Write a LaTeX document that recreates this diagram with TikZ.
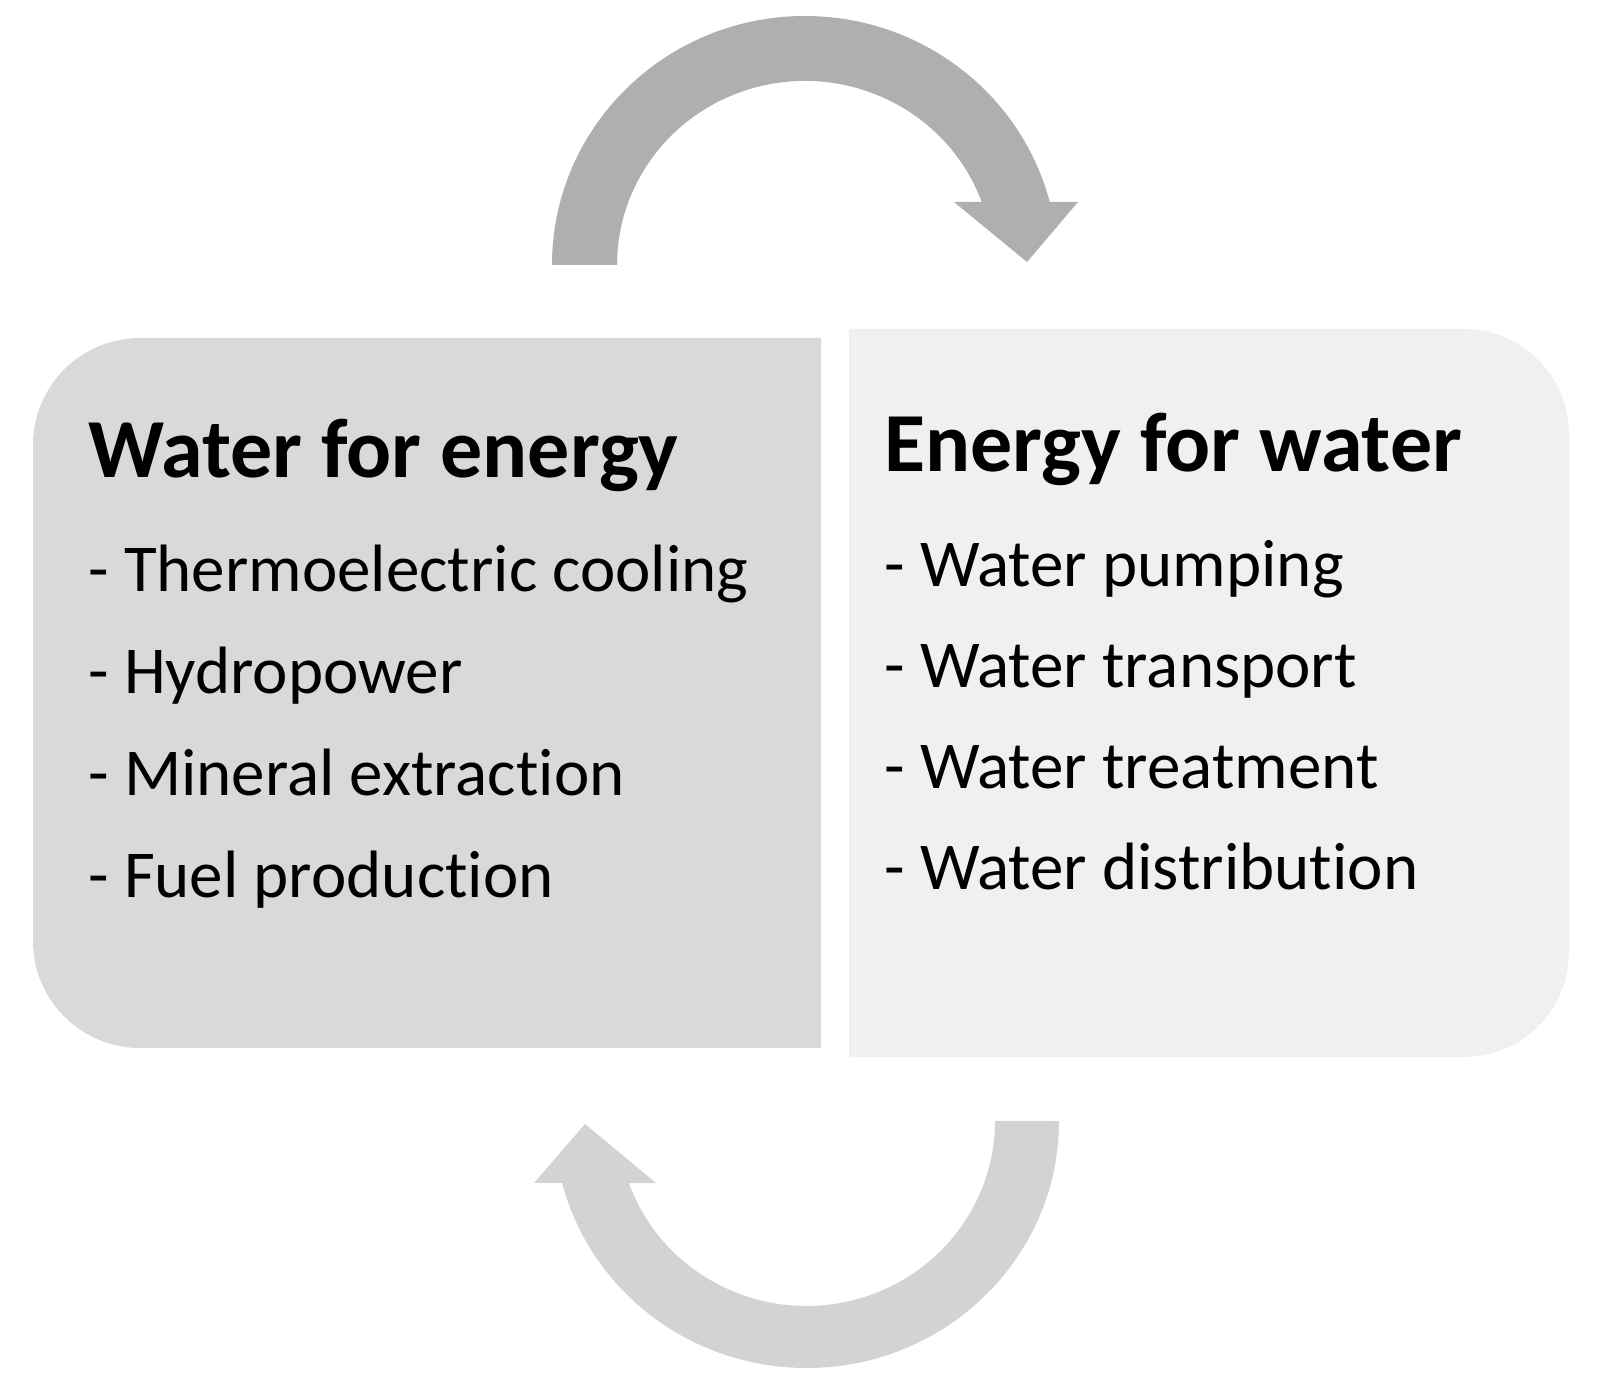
\documentclass[tikz,border=0pt]{standalone}
\usepackage{fontspec}
\setmainfont{Carlito}[Ligatures=NoCommon]
\definecolor{arrowdark}{HTML}{AFAFAF}
\definecolor{arrowlight}{HTML}{D3D3D3}
\definecolor{boxdark}{HTML}{D9D9D9}
\definecolor{boxlight}{HTML}{F0F0F0}
\tikzset{
  titletext/.style={anchor=base west, inner sep=0pt, font=\fontsize{42pt}{50pt}\selectfont\bfseries},
  itemtext/.style={anchor=base west, inner sep=0pt, font=\fontsize{33.5pt}{40pt}\selectfont},
}
\begin{document}
\begin{tikzpicture}[x=0.5pt,y=-0.5pt]
\useasboundingbox (0,0) rectangle (1600,1400);
% left box
\fill[boxdark] (821,338) -- (140,338) arc[start angle=270, end angle=180, radius=107]
  -- (33,941) arc[start angle=180, end angle=90, radius=107] -- (821,1048) -- cycle;
% right box
\fill[boxlight] (849,329) -- (1464,329) arc[start angle=270, end angle=360, radius=105]
  -- (1569,952) arc[start angle=0, end angle=90, radius=105] -- (849,1057) -- cycle;
% top arrow
\fill[arrowdark] (552,265) arc[start angle=180, end angle=345.3, x radius=253, y radius=249]
  -- (1078,202) -- (1027,262) -- (954,202) -- (981.7,202)
  arc[start angle=340, end angle=180, x radius=188, y radius=184] -- cycle;
% bottom arrow
\fill[arrowlight] (1059,1121) arc[start angle=0, end angle=165.5, x radius=252.5, y radius=247]
  -- (534,1183) -- (585,1124) -- (656,1183) -- (628.9,1183)
  arc[start angle=160.4, end angle=0, x radius=188.5, y radius=185] -- cycle;
% texts
\node[titletext] (lt) at (88,478) {Water for energy};
\node[itemtext] (l1) at (88,592) {- Thermoelectric cooling};
\node[itemtext] (l2) at (88,694) {- Hydropower};
\node[itemtext] (l3) at (88,795.5) {- Mineral extraction};
\node[itemtext] (l4) at (88,897) {- Fuel production};
\node[titletext] (rt) at (884,472) {Energy for water};
\node[itemtext] (r1) at (884,587) {- Water pumping};
\node[itemtext] (r2) at (884,688) {- Water transport};
\node[itemtext] (r3) at (884,788) {- Water treatment};
\node[itemtext] (r4) at (884,889) {- Water distribution};
\end{tikzpicture}
\end{document}
